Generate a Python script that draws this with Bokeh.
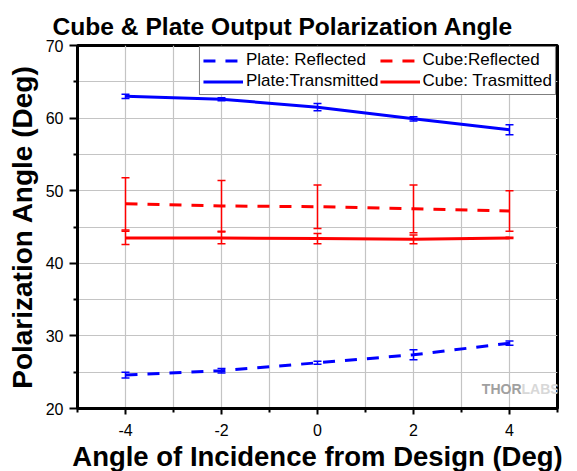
from bokeh.plotting import figure
from bokeh.models import (ColumnDataSource, Whisker, TeeHead, FixedTicker, Legend,
                          LegendItem, Label)
from bokeh.embed import file_html
from bokeh.resources import INLINE

# ---- data ----
angle = [-4, -2, 0, 2, 4]
plate_reflected = [24.6, 25.2, 26.3, 27.4, 29.0]
plate_reflected_err = [0.4, 0.3, 0.2, 0.7, 0.3]
plate_transmitted = [63.0, 62.6, 61.5, 59.9, 58.4]
plate_transmitted_err = [0.3, 0.2, 0.5, 0.3, 0.7]
cube_reflected = [48.2, 47.9, 47.8, 47.5, 47.2]
cube_reflected_err = [3.6, 3.5, 3.0, 3.3, 2.8]
cube_transmitted = [43.5, 43.5, 43.4, 43.3, 43.5]
cube_transmitted_err = [0.9, 0.8, 0.7, 0.6, 0.1]

x_major = [-4, -2, 0, 2, 4]
x_tick_labels = ["-4", "-2", "0", "2", "4"]
x_minor = [-5, -3, -1, 1, 3, 5]
y_major = [20, 30, 40, 50, 60, 70]
y_minor = [25, 35, 45, 55, 65]

FONT = "Liberation Sans"

p = figure(width=577, height=471, output_backend="svg", toolbar_location=None,
           x_range=(-5, 5), y_range=(20, 70),
           frame_width=480, frame_height=363,
           min_border_left=77, min_border_right=20, min_border_top=45, min_border_bottom=63,
           title="Cube & Plate Output Polarization Angle")
p.background_fill_color = "white"
p.border_fill_color = "white"
p.outline_line_color = "black"
p.outline_line_width = 3

p.title.text_font = FONT
p.title.text_font_size = "24.6px"
p.title.text_font_style = "bold"
p.title.text_color = "black"
p.title.align = "left"
p.title.offset = -25
p.title.standoff = 11

p.xaxis.ticker = FixedTicker(ticks=x_major, minor_ticks=x_minor)
p.xaxis.major_label_overrides = {t: s for t, s in zip(x_major, x_tick_labels)}
p.yaxis.ticker = FixedTicker(ticks=y_major, minor_ticks=y_minor)
for ax in (p.xaxis[0], p.yaxis[0]):
    ax.axis_line_color = "black"
    ax.axis_line_width = 3
    ax.major_tick_line_color = "black"
    ax.major_tick_line_width = 2
    ax.minor_tick_line_color = "black"
    ax.minor_tick_line_width = 2
    ax.major_tick_in = 0
    ax.minor_tick_in = 0
    ax.major_label_text_font = FONT
    ax.major_label_text_font_size = "16px"
    ax.major_label_text_color = "black"
    ax.axis_label_text_font = FONT
    ax.axis_label_text_font_style = "bold"
    ax.axis_label_text_color = "black"
p.xaxis.major_tick_out = 6
p.xaxis.minor_tick_out = 4
p.yaxis.major_tick_out = 8
p.yaxis.minor_tick_out = 4
p.xaxis.major_label_standoff = 9
p.yaxis.major_label_standoff = 6
p.xaxis.axis_label = "Angle of Incidence from Design (Deg)"
p.yaxis.axis_label = "Polarization Angle (Deg)"
p.xaxis.axis_label_text_font_size = "27.5px"
p.yaxis.axis_label_text_font_size = "28px"
p.xaxis.axis_label_standoff = 2
p.yaxis.axis_label_standoff = 5

for g in (p.xgrid[0], p.ygrid[0]):
    g.grid_line_color = "#c4c4c4"
    g.grid_line_width = 1.2
    g.minor_grid_line_color = "#c4c4c4"
    g.minor_grid_line_width = 1.2

series = [
    ("Plate: Reflected", plate_reflected, plate_reflected_err, "#0000ff", "12 10"),
    ("Plate:Transmitted", plate_transmitted, plate_transmitted_err, "#0000ff", "solid"),
    ("Cube:Reflected", cube_reflected, cube_reflected_err, "#ff0000", "12 10"),
    ("Cube: Trasmitted", cube_transmitted, cube_transmitted_err, "#ff0000", "solid"),
]

items = []
for name, vals, errs, color, dash in series:
    src = ColumnDataSource(dict(x=angle, y=vals,
                                lo=[v - e for v, e in zip(vals, errs)],
                                hi=[v + e for v, e in zip(vals, errs)]))
    r = p.line("x", "y", source=src, line_color=color, line_width=3, line_dash=dash)
    w = Whisker(base="x", lower="lo", upper="hi", source=src,
                line_color=color, line_width=1.5,
                upper_head=TeeHead(size=8, line_color=color, line_width=1.5),
                lower_head=TeeHead(size=8, line_color=color, line_width=1.5))
    p.add_layout(w)
    items.append(LegendItem(label=name, renderers=[r]))

legend = Legend(items=items, location="top_right", ncols=2,
                label_text_font=FONT, label_text_font_size="17px",
                label_text_color="black",
                glyph_width=40, glyph_height=17, label_standoff=3,
                spacing=1, padding=3, margin=1, label_height=17,
                border_line_color="black", border_line_width=1.5,
                background_fill_color="white", background_fill_alpha=1)
p.add_layout(legend)

p.add_layout(Label(x=4.25, y=21.6, text="THOR", text_align="right", text_baseline="bottom",
                   text_font=FONT, text_font_style="bold", text_font_size="14px",
                   text_color="#a0a0a0"))
p.add_layout(Label(x=4.25, y=21.6, text="LABS", text_align="left", text_baseline="bottom",
                   text_font=FONT, text_font_style="bold", text_font_size="14px",
                   text_color="#d8d8d8"))

open("out.html", "w").write(file_html(p, INLINE))
